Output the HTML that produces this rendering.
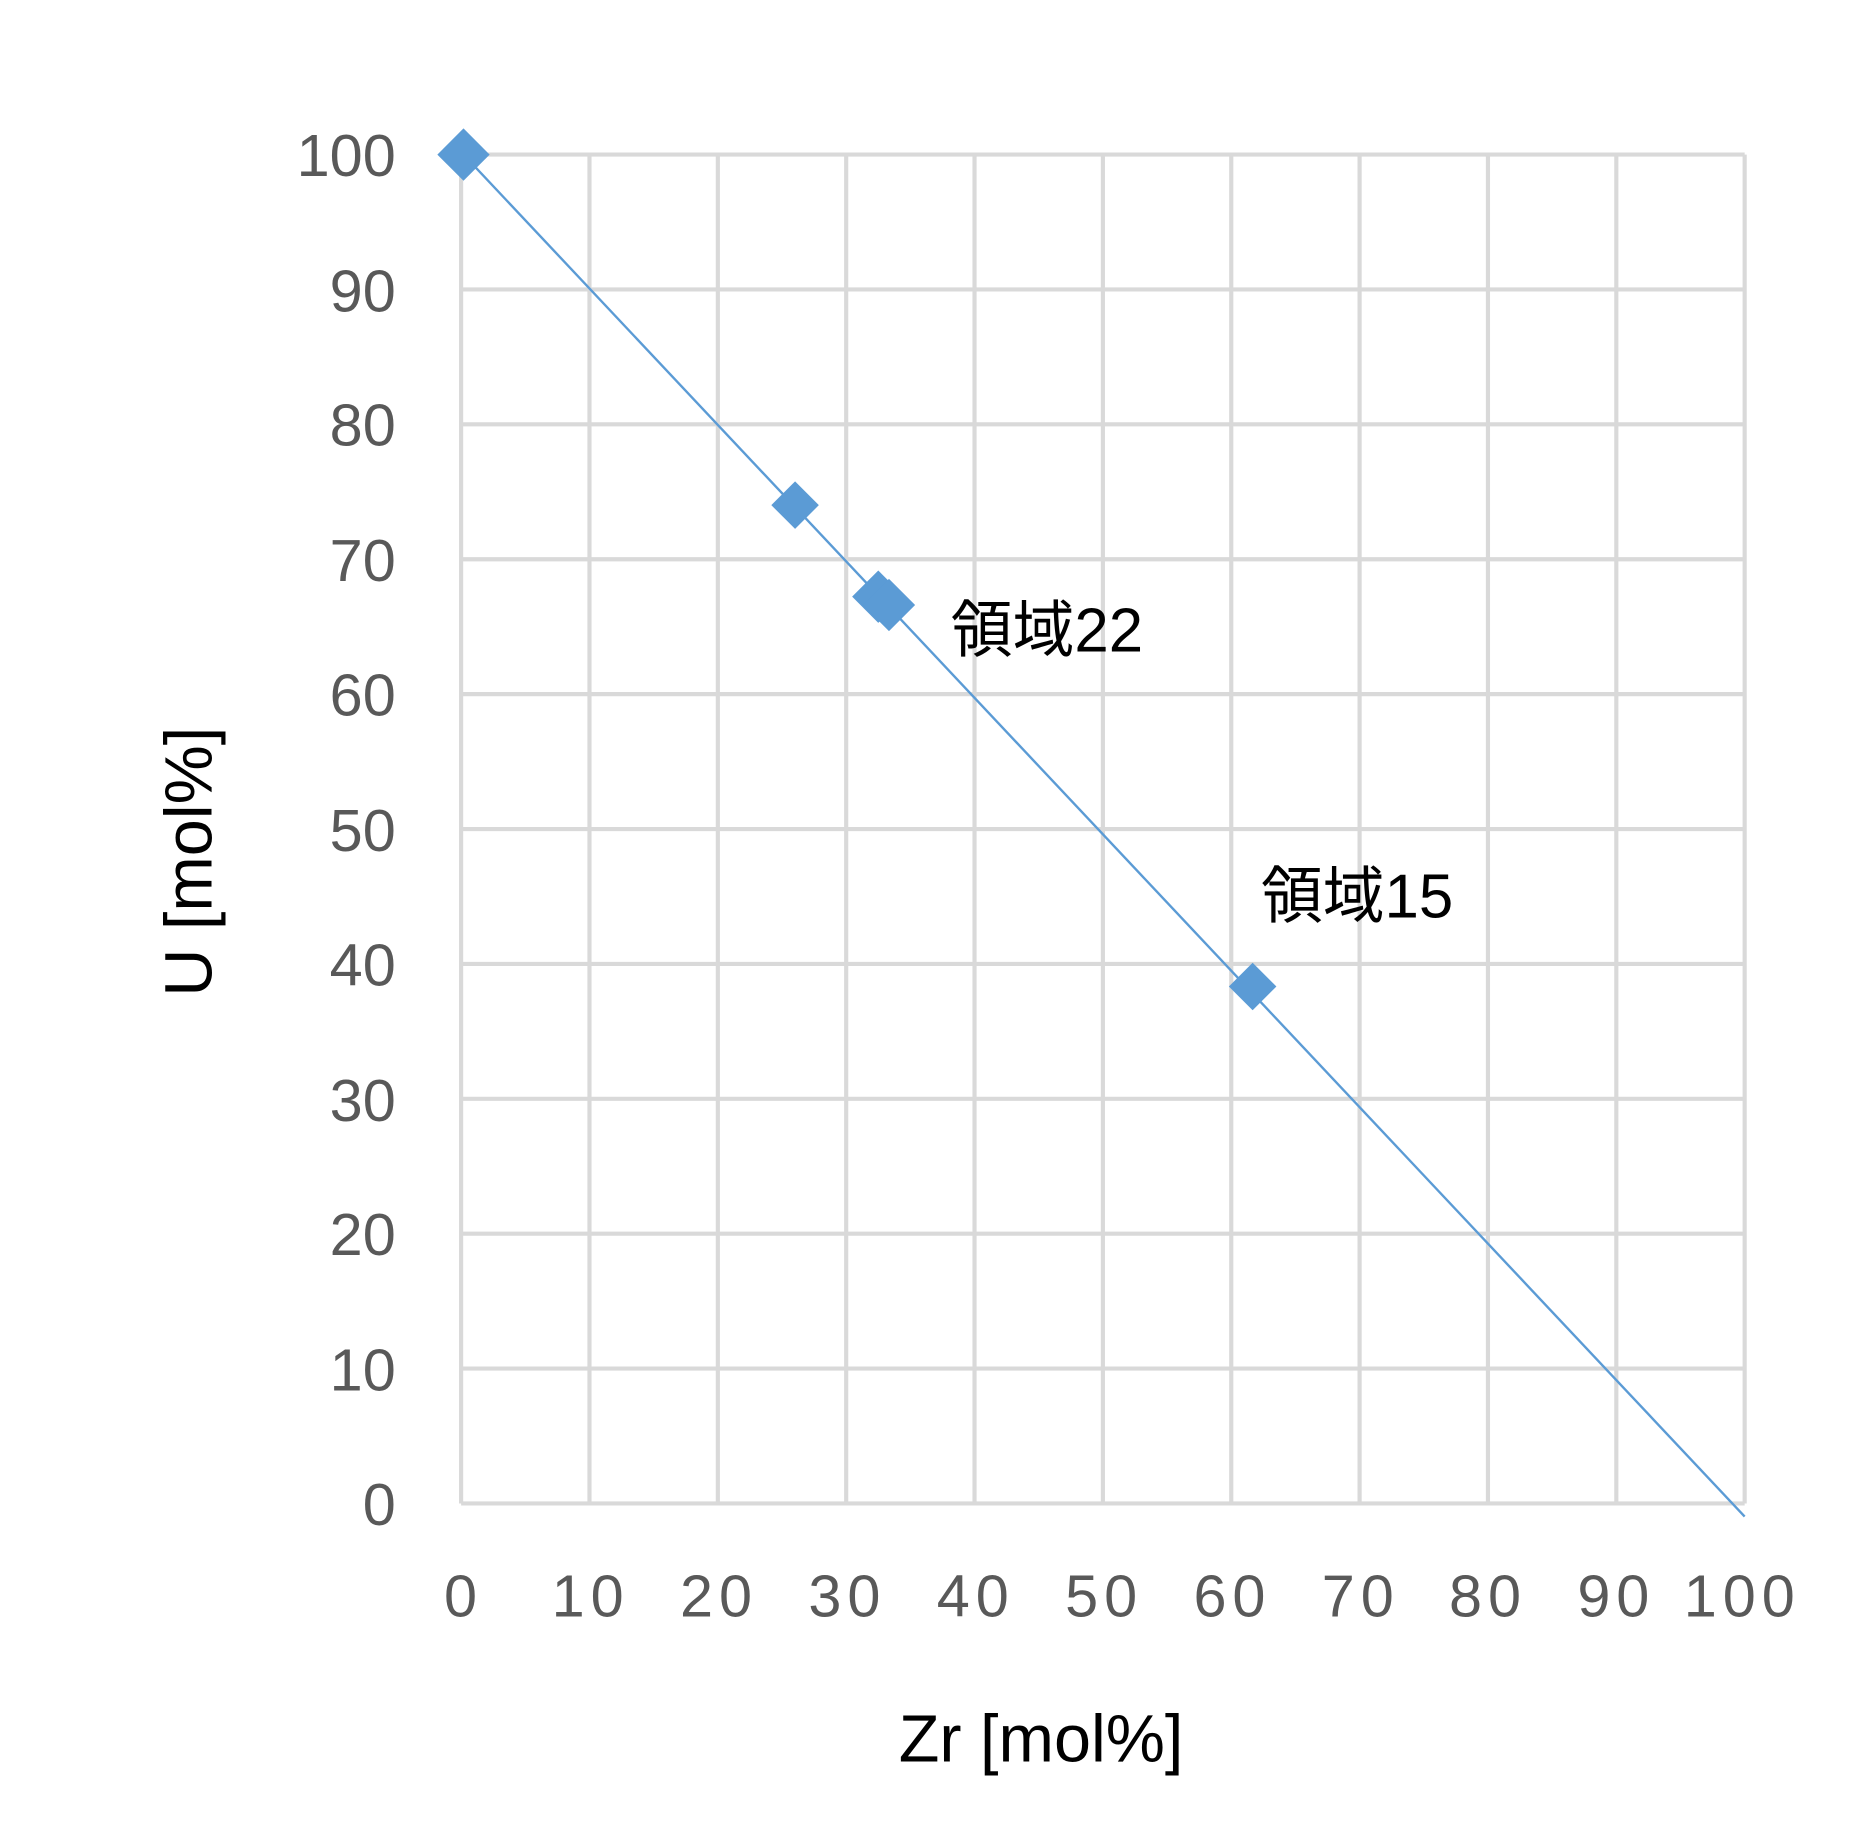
<!DOCTYPE html>
<html><head><meta charset="utf-8"><style>
html,body{margin:0;padding:0;background:#fff;}
svg{display:block;}
</style></head><body>
<svg width="1854" height="1847" viewBox="0 0 1560 1554" xmlns="http://www.w3.org/2000/svg">
<rect width="1560" height="1554" fill="#fff"/>
<g stroke="#d9d9d9" stroke-width="3.5">
<line x1="388" y1="130" x2="1468" y2="130"/><line x1="388" y1="243.5" x2="1468" y2="243.5"/>
<line x1="388" y1="357" x2="1468" y2="357"/><line x1="388" y1="470.5" x2="1468" y2="470.5"/>
<line x1="388" y1="584" x2="1468" y2="584"/><line x1="388" y1="697.5" x2="1468" y2="697.5"/>
<line x1="388" y1="811" x2="1468" y2="811"/><line x1="388" y1="924.5" x2="1468" y2="924.5"/>
<line x1="388" y1="1038" x2="1468" y2="1038"/><line x1="388" y1="1151.5" x2="1468" y2="1151.5"/>
<line x1="388" y1="1265" x2="1468" y2="1265"/>
<line x1="388" y1="130" x2="388" y2="1265"/><line x1="496" y1="130" x2="496" y2="1265"/>
<line x1="604" y1="130" x2="604" y2="1265"/><line x1="712" y1="130" x2="712" y2="1265"/>
<line x1="820" y1="130" x2="820" y2="1265"/><line x1="928" y1="130" x2="928" y2="1265"/>
<line x1="1036" y1="130" x2="1036" y2="1265"/><line x1="1144" y1="130" x2="1144" y2="1265"/>
<line x1="1252" y1="130" x2="1252" y2="1265"/><line x1="1360" y1="130" x2="1360" y2="1265"/>
<line x1="1468" y1="130" x2="1468" y2="1265"/>
</g>
<line x1="390" y1="130" x2="1468" y2="1276" stroke="#5b9bd5" stroke-width="2"/>
<g fill="#5b9bd5">
<polygon points="390,108 412,130 390,152 368,130"/>
<polygon points="669,405 689,425 669,445 649,425"/>
<polygon points="739,480 761,502 739,524 717,502"/>
<polygon points="748,487 770,509 748,531 726,509"/>
<polygon points="1054,810 1074,830 1054,850 1034,830"/>
</g>
<g font-family="Liberation Sans, sans-serif" font-size="50" fill="#595959" text-anchor="end">
<text x="333" y="148">100</text><text x="333" y="262">90</text><text x="333" y="375">80</text>
<text x="333" y="489">70</text><text x="333" y="602">60</text><text x="333" y="716">50</text>
<text x="333" y="829">40</text><text x="333" y="943">30</text><text x="333" y="1056">20</text>
<text x="333" y="1170">10</text><text x="333" y="1283">0</text>
</g>
<g font-family="Liberation Sans, sans-serif" font-size="50" fill="#595959" text-anchor="middle" letter-spacing="5">
<text x="390" y="1360">0</text><text x="497" y="1360">10</text><text x="605" y="1360">20</text>
<text x="713" y="1360">30</text><text x="821" y="1360">40</text><text x="929" y="1360">50</text>
<text x="1037" y="1360">60</text><text x="1145" y="1360">70</text><text x="1252" y="1360">80</text>
<text x="1360" y="1360">90</text><text x="1466" y="1360">100</text>
</g>
<text x="876" y="1482" font-family="Liberation Sans, sans-serif" font-size="56" fill="#000" text-anchor="middle">Zr [mol%]</text>
<text transform="translate(178,725) rotate(-90)" font-family="Liberation Sans, sans-serif" font-size="56" fill="#000" text-anchor="middle">U [mol%]</text>
<g font-family="Liberation Sans, 'Noto Sans CJK JP', sans-serif" font-size="52" fill="#000">
<text x="800" y="548">領域22</text>
<text x="1061" y="772">領域15</text>
</g>
</svg>
</body></html>
